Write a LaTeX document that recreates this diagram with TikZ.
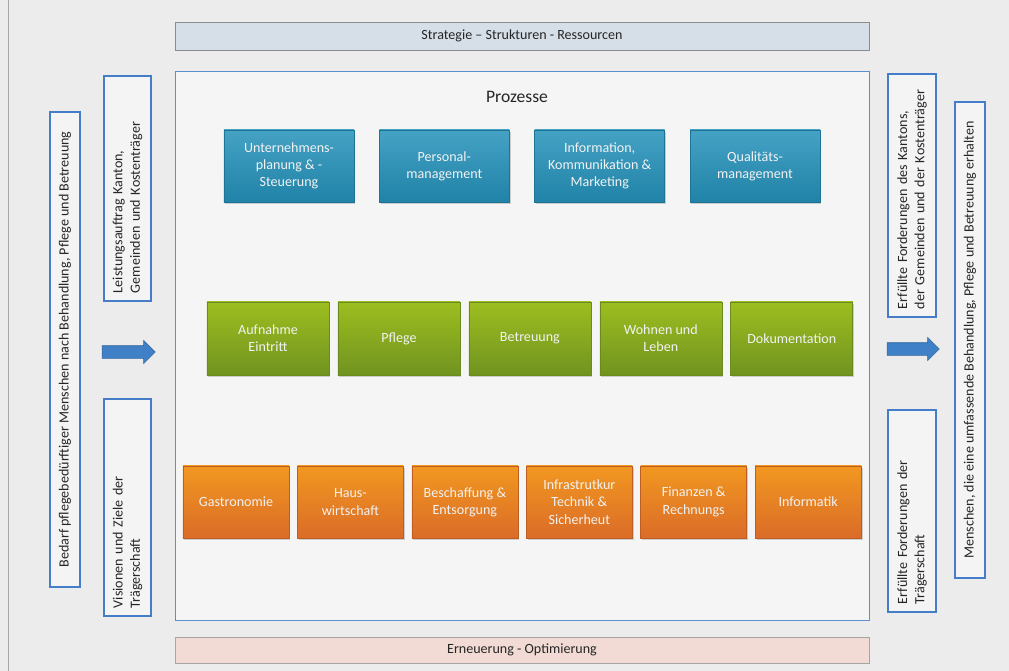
\documentclass[tikz,border=0pt]{standalone}
\usepackage{fontspec}
\setmainfont{Carlito}
\usepackage{tikz}
\usetikzlibrary{shapes.arrows,shadows}
\definecolor{papercolor}{rgb}{0.925,0.925,0.925}
\definecolor{framecolor}{rgb}{0.36,0.56,0.82}
\definecolor{vboxcolor}{rgb}{0.27,0.49,0.79}
\definecolor{arrowcolor}{rgb}{0.25,0.5,0.78}
\definecolor{leadcolor}{rgb}{0.14,0.57,0.73}
\definecolor{corecolor}{rgb}{0.52,0.68,0.15}
\definecolor{supportcolor}{rgb}{0.93,0.46,0.17}
\definecolor{strategycolor}{rgb}{0.84,0.87,0.91}
\definecolor{renewcolor}{rgb}{0.95,0.86,0.83}

\begin{document}
\begin{tikzpicture}[x=0.025cm,y=-0.025cm,font=\fontsize{10}{12.3}\selectfont]
  \tikzstyle{procbox}=[draw, align=center, text=white!95!black, inner sep=2pt,
                       drop shadow={shadow xshift=1pt,shadow yshift=-1.2pt,opacity=0.35}]
  \tikzstyle{lead}=[procbox, draw=leadcolor!80!black, top color=leadcolor!85!white,
                    bottom color=leadcolor!90!black, minimum width=3.25cm, minimum height=1.8cm]
  \tikzstyle{core}=[procbox, draw=corecolor!80!black, top color=corecolor!80!yellow,
                    bottom color=corecolor!85!black, minimum width=3.05cm, minimum height=1.825cm]
  \tikzstyle{support}=[procbox, draw=supportcolor!80!black, top color=supportcolor!75!yellow,
                       bottom color=supportcolor!92!black, minimum width=2.65cm, minimum height=1.8cm]
  \tikzstyle{vbox}=[draw=vboxcolor, line width=1.8pt, fill=papercolor!60!white, rotate=90,
                    text=black!85, inner xsep=0.2cm, inner ysep=2pt]
  \tikzstyle{bar}=[draw=black!45, minimum width=17.35cm, align=center, text=black!85]
  \tikzstyle{flow}=[single arrow, fill=arrowcolor, draw=arrowcolor!80!black, inner xsep=0pt,
                    inner ysep=0.15cm, single arrow head extend=0.13cm]

  \fill[papercolor] (0,0) rectangle (1009,671);
  \useasboundingbox (0,0) rectangle (1009,671);
  \draw[black!35] (8,0) -- (8,671);

  % Rahmen
  \node[bar, fill=strategycolor, minimum height=0.7cm] (strat) at (522,36)
       {Strategie -- Strukturen - Ressourcen};
  \node[draw=framecolor, fill=papercolor!50!white, minimum width=17.35cm, minimum height=13.725cm]
       (proz) at (522,345.5) {};
  \node[text=black!85, font=\fontsize{12.5}{15}\selectfont] (prozlabel) at (517,97) {Prozesse};
  \node[bar, fill=renewcolor, draw=black!35, minimum height=0.65cm] (ern) at (522,650)
       {Erneuerung - Optimierung};

  % Fuehrungsprozesse
  \begin{scope}[node distance=3.8825cm]
  \node[lead] (L1) at (289,166) {Unternehmens-\\planung \& -\\Steuerung};
  \node[lead] (L2) [right of=L1] {Personal-\\management};
  \node[lead] (L3) [right of=L2] {Information,\\Kommunikation \&\\Marketing};
  \node[lead] (L4) [right of=L3] {Qualitäts-\\management};
  \end{scope}

  % Kernprozesse
  \begin{scope}[node distance=3.2725cm]
  \node[core] (K1) at (268,338.5) {Aufnahme\\Eintritt};
  \node[core] (K2) [right of=K1] {Pflege};
  \node[core] (K3) [right of=K2] {Betreuung};
  \node[core] (K4) [right of=K3] {Wohnen und\\Leben};
  \node[core] (K5) [right of=K4] {Dokumentation};
  \end{scope}

  % Unterstuetzungsprozesse
  \begin{scope}[node distance=2.86cm]
  \node[support] (S1) at (236,502) {Gastronomie};
  \node[support] (S2) [right of=S1] {Haus-\\wirtschaft};
  \node[support] (S3) [right of=S2] {Beschaffung \&\\Entsorgung};
  \node[support] (S4) [right of=S3] {Infrastrutkur\\Technik \&\\Sicherheut};
  \node[support] (S5) [right of=S4] {Finanzen \&\\Rechnungs};
  \node[support] (S6) [right of=S5] {Informatik};
  \end{scope}

  % Input
  \node[vbox, minimum width=11.875cm, minimum height=0.75cm] (bedarf) at (65,349.5)
       {Bedarf pflegebedürftiger Menschen nach Behandlung, Pflege und Betreuung};
  \node[vbox, minimum width=5.625cm, minimum height=1.175cm, text width=5.225cm, align=left]
       (auftrag) at (127.5,188.5) {Leistungsauftrag Kanton,\\Gemeinden und Kostenträger};
  \node[vbox, minimum width=5.425cm, minimum height=1.175cm, text width=5.025cm, align=left]
       (vision) at (127.5,507.5) {Visionen und Ziele der\\Trägerschaft};
  \node[flow, minimum height=1.325cm] (inpfeil) at (125.5,352) {};

  % Output
  \node[vbox, minimum width=6.075cm, minimum height=1.2cm, text width=5.675cm, align=left]
       (erfkanton) at (912,195.5) {Erfüllte Forderungen des Kantons,\\der Gemeinden und der Kostenträger};
  \node[vbox, minimum width=11.9cm, minimum height=0.75cm] (menschen) at (970,340)
       {Menschen, die eine umfassende Behandlung, Pflege und Betreuung erhalten};
  \node[vbox, minimum width=5.05cm, minimum height=1.2cm, text width=4.65cm, align=left]
       (erftraeger) at (912,511) {Erfüllte Forderungen der\\Trägerschaft};
  \node[flow, minimum height=1.3cm] (outpfeil) at (910,349) {};

\end{tikzpicture}
\end{document}
